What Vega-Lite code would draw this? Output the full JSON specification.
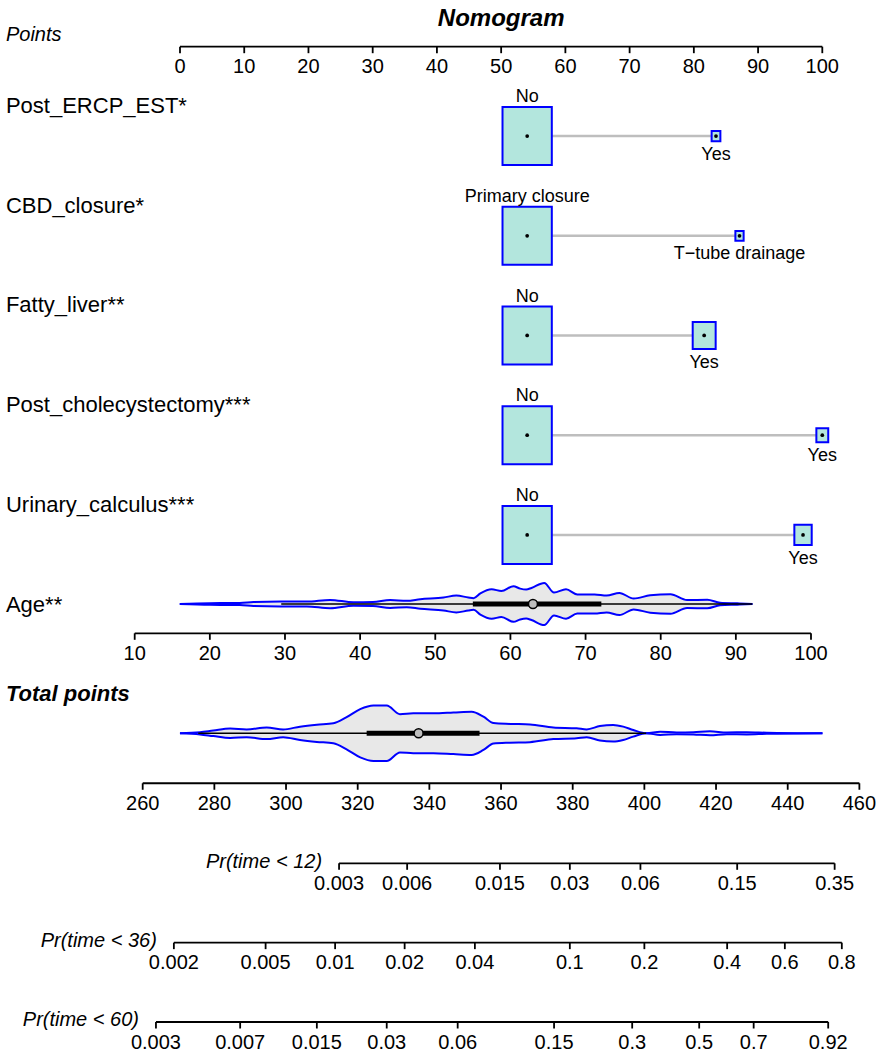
{
  "$schema": "https://vega.github.io/schema/vega-lite/v6.json",
  "width": 876,
  "height": 1055,
  "autosize": {"type": "none"},
  "padding": 0,
  "background": "white",
  "config": {"view": {"stroke": null}, "text": {"font": "Liberation Sans", "color": "black"}},
  "datasets": {
    "boxes": [
      {"var": "Post_ERCP_EST", "order": 1, "level": "No", "lvl": 1, "points": 54.05, "relfreq": 1},
      {"var": "Post_ERCP_EST", "order": 1, "level": "Yes", "lvl": 2, "points": 83.45, "relfreq": 0.0315},
      {"var": "CBD_closure", "order": 2, "level": "Primary closure", "lvl": 1, "points": 54.05, "relfreq": 1},
      {"var": "CBD_closure", "order": 2, "level": "T−tube drainage", "lvl": 2, "points": 87.11, "relfreq": 0.028},
      {"var": "Fatty_liver", "order": 3, "level": "No", "lvl": 1, "points": 54.05, "relfreq": 1},
      {"var": "Fatty_liver", "order": 3, "level": "Yes", "lvl": 2, "points": 81.61, "relfreq": 0.217},
      {"var": "Post_cholecystectomy", "order": 4, "level": "No", "lvl": 1, "points": 54.05, "relfreq": 1},
      {"var": "Post_cholecystectomy", "order": 4, "level": "Yes", "lvl": 2, "points": 100, "relfreq": 0.058},
      {"var": "Urinary_calculus", "order": 5, "level": "No", "lvl": 1, "points": 54.05, "relfreq": 1},
      {"var": "Urinary_calculus", "order": 5, "level": "Yes", "lvl": 2, "points": 97.0, "relfreq": 0.124}
    ],
    "rowlabels": [
      {"label": "Post_ERCP_EST*", "order": 1},
      {"label": "CBD_closure*", "order": 2},
      {"label": "Fatty_liver**", "order": 3},
      {"label": "Post_cholecystectomy***", "order": 4},
      {"label": "Urinary_calculus***", "order": 5},
      {"label": "Age**", "order": 6}
    ],
    "pointsTicks": [
      {"value": 0}, {"value": 10}, {"value": 20}, {"value": 30}, {"value": 40}, {"value": 50},
      {"value": 60}, {"value": 70}, {"value": 80}, {"value": 90}, {"value": 100}
    ],
    "ageTicks": [
      {"value": 10}, {"value": 20}, {"value": 30}, {"value": 40}, {"value": 50},
      {"value": 60}, {"value": 70}, {"value": 80}, {"value": 90}, {"value": 100}
    ],
    "totalTicks": [
      {"value": 260}, {"value": 280}, {"value": 300}, {"value": 320}, {"value": 340}, {"value": 360},
      {"value": 380}, {"value": 400}, {"value": 420}, {"value": 440}, {"value": 460}
    ],
    "prTicks": [
      {"axis": "Pr(time < 12)", "prob": "0.003", "total": 314.8},
      {"axis": "Pr(time < 12)", "prob": "0.006", "total": 333.8},
      {"axis": "Pr(time < 12)", "prob": "0.015", "total": 359.7},
      {"axis": "Pr(time < 12)", "prob": "0.03", "total": 379.2},
      {"axis": "Pr(time < 12)", "prob": "0.06", "total": 398.9},
      {"axis": "Pr(time < 12)", "prob": "0.15", "total": 425.9},
      {"axis": "Pr(time < 12)", "prob": "0.35", "total": 453.1},
      {"axis": "Pr(time < 36)", "prob": "0.002", "total": 268.7},
      {"axis": "Pr(time < 36)", "prob": "0.005", "total": 294.3},
      {"axis": "Pr(time < 36)", "prob": "0.01", "total": 313.7},
      {"axis": "Pr(time < 36)", "prob": "0.02", "total": 333.1},
      {"axis": "Pr(time < 36)", "prob": "0.04", "total": 352.7},
      {"axis": "Pr(time < 36)", "prob": "0.1", "total": 379.2},
      {"axis": "Pr(time < 36)", "prob": "0.2", "total": 400.0},
      {"axis": "Pr(time < 36)", "prob": "0.4", "total": 423.1},
      {"axis": "Pr(time < 36)", "prob": "0.6", "total": 439.2},
      {"axis": "Pr(time < 36)", "prob": "0.8", "total": 455.1},
      {"axis": "Pr(time < 60)", "prob": "0.003", "total": 263.7},
      {"axis": "Pr(time < 60)", "prob": "0.007", "total": 287.2},
      {"axis": "Pr(time < 60)", "prob": "0.015", "total": 308.6},
      {"axis": "Pr(time < 60)", "prob": "0.03", "total": 328.1},
      {"axis": "Pr(time < 60)", "prob": "0.06", "total": 347.9},
      {"axis": "Pr(time < 60)", "prob": "0.15", "total": 374.8},
      {"axis": "Pr(time < 60)", "prob": "0.3", "total": 396.6},
      {"axis": "Pr(time < 60)", "prob": "0.5", "total": 415.3},
      {"axis": "Pr(time < 60)", "prob": "0.7", "total": 430.5},
      {"axis": "Pr(time < 60)", "prob": "0.92", "total": 451.3}
    ],
    "ageViolin": [
      {"age": 16, "density": 0}, {"age": 20, "density": 0.04}, {"age": 24, "density": 0.05},
      {"age": 25.8, "density": 0.09}, {"age": 29.4, "density": 0.11}, {"age": 32.9, "density": 0.11},
      {"age": 36, "density": 0.19}, {"age": 39.1, "density": 0.08}, {"age": 41.7, "density": 0.09},
      {"age": 44, "density": 0.18}, {"age": 46.2, "density": 0.15}, {"age": 48, "density": 0.22},
      {"age": 51.1, "density": 0.3}, {"age": 52.8, "density": 0.39}, {"age": 54.4, "density": 0.3},
      {"age": 55.1, "density": 0.27}, {"age": 56, "density": 0.49}, {"age": 57.5, "density": 0.68},
      {"age": 58.8, "density": 0.6}, {"age": 60.4, "density": 0.82}, {"age": 61.3, "density": 0.71},
      {"age": 62.1, "density": 0.67}, {"age": 62.8, "density": 0.74}, {"age": 64.5, "density": 0.97},
      {"age": 65.8, "density": 0.53}, {"age": 67.4, "density": 0.68}, {"age": 68.9, "density": 0.44},
      {"age": 71.2, "density": 0.44}, {"age": 72.8, "density": 0.39}, {"age": 74.5, "density": 0.51},
      {"age": 76.4, "density": 0.25}, {"age": 78.6, "density": 0.4}, {"age": 81.3, "density": 0.45},
      {"age": 83.5, "density": 0.18}, {"age": 86.2, "density": 0.2}, {"age": 87.9, "density": 0.06},
      {"age": 90.2, "density": 0.03}, {"age": 92.2, "density": 0}
    ],
    "totalViolin": [
      {"total": 270.4, "density": 0}, {"total": 276, "density": 0.04}, {"total": 279.7, "density": 0.1},
      {"total": 284.4, "density": 0.17}, {"total": 289, "density": 0.14}, {"total": 294.6, "density": 0.21},
      {"total": 299.2, "density": 0.14}, {"total": 303.9, "density": 0.24}, {"total": 308.6, "density": 0.31},
      {"total": 313.2, "density": 0.36}, {"total": 316.9, "density": 0.58}, {"total": 320.7, "density": 0.87},
      {"total": 324.4, "density": 1}, {"total": 328.1, "density": 1}, {"total": 331.8, "density": 0.69},
      {"total": 335.5, "density": 0.72}, {"total": 341.1, "density": 0.72}, {"total": 346.7, "density": 0.75},
      {"total": 351.8, "density": 0.78}, {"total": 355.1, "density": 0.6}, {"total": 357.9, "density": 0.37},
      {"total": 362.5, "density": 0.34}, {"total": 368.1, "density": 0.32}, {"total": 374.6, "density": 0.21},
      {"total": 381.1, "density": 0.18}, {"total": 383.9, "density": 0.14}, {"total": 387.6, "density": 0.26},
      {"total": 391.3, "density": 0.3}, {"total": 394.1, "density": 0.24}, {"total": 396.9, "density": 0.12},
      {"total": 400.6, "density": 0}, {"total": 404.4, "density": 0.06}, {"total": 409, "density": 0.03},
      {"total": 413.7, "density": 0.04}, {"total": 418.3, "density": 0.07}, {"total": 423, "density": 0.03},
      {"total": 428.6, "density": 0.04}, {"total": 434.2, "density": 0.02}, {"total": 449.7, "density": 0}
    ],
    "summary": [
      {"var": "Age", "lo": 29.5, "q1": 55, "median": 63, "q3": 72.1, "hi": 92.2},
      {"var": "Total", "lo": 275.5, "q1": 322.5, "median": 337, "q3": 354, "hi": 400.5}
    ]
  },
  "resolve": {"scale": {"x": "independent", "y": "independent", "size": "independent"}},
  "layer": [
    {
      "data": {"values": [{"t": "Nomogram"}]},
      "mark": {"type": "text", "fontSize": 24, "fontWeight": "bold", "fontStyle": "italic", "align": "center", "baseline": "alphabetic"},
      "encoding": {
        "x": {"datum": 50, "type": "quantitative", "scale": {"domain": [-28.024, 108.36], "nice": false, "zero": false}, "axis": null},
        "y": {"datum": -0.1043, "type": "quantitative", "scale": {"domain": [-0.365, 10.2166], "reverse": true, "nice": false, "zero": false}, "axis": null},
        "text": {"field": "t", "type": "nominal"}
      }
    },
    {
      "data": {"values": [{"t": "Points"}]},
      "mark": {"type": "text", "fontSize": 20, "fontStyle": "italic", "align": "left", "baseline": "alphabetic"},
      "encoding": {
        "x": {"datum": -27.1, "type": "quantitative", "scale": {"domain": [-28.024, 108.36], "nice": false, "zero": false}, "axis": null},
        "y": {"datum": 0.0461, "type": "quantitative", "scale": {"domain": [-0.365, 10.2166], "reverse": true, "nice": false, "zero": false}, "axis": null},
        "text": {"field": "t", "type": "nominal"}
      }
    },
    {
      "data": {"name": "pointsTicks"},
      "mark": {"type": "rule", "color": "black", "strokeWidth": 1.8},
      "encoding": {
        "x": {"aggregate": "min", "field": "value", "type": "quantitative", "scale": {"domain": [-28.024, 108.36], "nice": false, "zero": false}, "axis": null},
        "x2": {"aggregate": "max", "field": "value"},
        "y": {"datum": 0.1033, "type": "quantitative", "scale": {"domain": [-0.365, 10.2166], "reverse": true, "nice": false, "zero": false}, "axis": null}
      }
    },
    {
      "data": {"name": "pointsTicks"},
      "mark": {"type": "rule", "color": "black", "strokeWidth": 1.8, "y2Offset": 6.5},
      "encoding": {
        "x": {"field": "value", "type": "quantitative", "scale": {"domain": [-28.024, 108.36], "nice": false, "zero": false}, "axis": null},
        "y": {"datum": 0.1033, "type": "quantitative", "scale": {"domain": [-0.365, 10.2166], "reverse": true, "nice": false, "zero": false}, "axis": null},
        "y2": {"datum": 0.1033}
      }
    },
    {
      "data": {"name": "pointsTicks"},
      "mark": {"type": "text", "fontSize": 20, "align": "center", "baseline": "alphabetic", "dy": 26.5},
      "encoding": {
        "x": {"field": "value", "type": "quantitative", "scale": {"domain": [-28.024, 108.36], "nice": false, "zero": false}, "axis": null},
        "y": {"datum": 0.1033, "type": "quantitative", "scale": {"domain": [-0.365, 10.2166], "reverse": true, "nice": false, "zero": false}, "axis": null},
        "text": {"field": "value", "type": "nominal"}
      }
    },
    {
      "data": {"name": "rowlabels"},
      "mark": {"type": "text", "fontSize": 22, "align": "left", "baseline": "alphabetic", "dy": -23},
      "encoding": {
        "x": {"datum": -27.1, "type": "quantitative", "scale": {"domain": [-28.024, 108.36], "nice": false, "zero": false}, "axis": null},
        "y": {"field": "order", "type": "quantitative", "scale": {"domain": [-0.365, 10.2166], "reverse": true, "nice": false, "zero": false}, "axis": null},
        "text": {"field": "label", "type": "nominal"}
      }
    },
    {
      "data": {"name": "boxes"},
      "mark": {"type": "rule", "color": "#bebebe", "strokeWidth": 2.5},
      "encoding": {
        "x": {"aggregate": "min", "field": "points", "type": "quantitative", "scale": {"domain": [-28.024, 108.36], "nice": false, "zero": false}, "axis": null},
        "x2": {"aggregate": "max", "field": "points"},
        "y": {"field": "order", "type": "quantitative", "scale": {"domain": [-0.365, 10.2166], "reverse": true, "nice": false, "zero": false}, "axis": null}
      }
    },
    {
      "data": {"name": "boxes"},
      "mark": {"type": "point", "shape": "M-0.85,-1H0.85V1H-0.85Z", "filled": true, "fill": "#b3e6dd", "stroke": "#0000ff", "strokeWidth": 2, "opacity": 1},
      "encoding": {
        "x": {"field": "points", "type": "quantitative", "scale": {"domain": [-28.024, 108.36], "nice": false, "zero": false}, "axis": null},
        "y": {"field": "order", "type": "quantitative", "scale": {"domain": [-0.365, 10.2166], "reverse": true, "nice": false, "zero": false}, "axis": null},
        "size": {"field": "relfreq", "type": "quantitative", "scale": {"type": "linear", "domain": [0, 1], "range": [0, 3364], "zero": true}, "legend": null}
      }
    },
    {
      "data": {"name": "boxes"},
      "mark": {"type": "point", "shape": "circle", "filled": true, "color": "black", "size": 14, "opacity": 1},
      "encoding": {
        "x": {"field": "points", "type": "quantitative", "scale": {"domain": [-28.024, 108.36], "nice": false, "zero": false}, "axis": null},
        "y": {"field": "order", "type": "quantitative", "scale": {"domain": [-0.365, 10.2166], "reverse": true, "nice": false, "zero": false}, "axis": null}
      }
    },
    {
      "data": {"name": "boxes"},
      "transform": [{"filter": "datum.lvl == 1"}],
      "mark": {"type": "text", "fontSize": 18, "align": "center", "baseline": "alphabetic", "dy": -33.7},
      "encoding": {
        "x": {"field": "points", "type": "quantitative", "scale": {"domain": [-28.024, 108.36], "nice": false, "zero": false}, "axis": null},
        "y": {"field": "order", "type": "quantitative", "scale": {"domain": [-0.365, 10.2166], "reverse": true, "nice": false, "zero": false}, "axis": null},
        "text": {"field": "level", "type": "nominal"}
      }
    },
    {
      "data": {"name": "boxes"},
      "transform": [{"filter": "datum.lvl == 2"}],
      "mark": {"type": "text", "fontSize": 18, "align": "center", "baseline": "alphabetic"},
      "encoding": {
        "x": {"field": "points", "type": "quantitative", "scale": {"domain": [-28.024, 108.36], "nice": false, "zero": false}, "axis": null},
        "y": {"field": "order", "type": "ordinal", "scale": {"type": "point", "domain": [1, 2, 3, 4, 5], "range": [136.1, 534.9], "padding": 0}, "axis": null},
        "yOffset": {"field": "relfreq", "type": "quantitative", "scale": {"type": "sqrt", "domain": [0, 1], "range": [18.5, 47.5], "zero": false, "nice": false}},
        "text": {"field": "level", "type": "nominal"}
      }
    },
    {
      "data": {"name": "ageViolin"},
      "mark": {"type": "area", "interpolate": "monotone", "color": "#e8e8e8", "opacity": 1},
      "encoding": {
        "x": {"field": "age", "type": "quantitative", "scale": {"domain": [-7.925, 108.65], "nice": false, "zero": false}, "axis": null},
        "y": {"field": "density", "type": "quantitative", "stack": null, "scale": {"domain": [-20.783, 27.834], "nice": false, "zero": false}, "axis": null},
        "y2": {"datum": 0}
      }
    },
    {
      "data": {"name": "ageViolin"},
      "mark": {"type": "area", "interpolate": "monotone", "color": "#e8e8e8", "opacity": 1},
      "encoding": {
        "x": {"field": "age", "type": "quantitative", "scale": {"domain": [-7.925, 108.65], "nice": false, "zero": false}, "axis": null},
        "y": {"field": "density", "type": "quantitative", "stack": null, "scale": {"domain": [20.783, -27.834], "nice": false, "zero": false}, "axis": null},
        "y2": {"datum": 0}
      }
    },
    {
      "data": {"name": "ageViolin"},
      "mark": {"type": "line", "interpolate": "monotone", "color": "#0000ff", "strokeWidth": 2},
      "encoding": {
        "x": {"field": "age", "type": "quantitative", "scale": {"domain": [-7.925, 108.65], "nice": false, "zero": false}, "axis": null},
        "y": {"field": "density", "type": "quantitative", "scale": {"domain": [-20.783, 27.834], "nice": false, "zero": false}, "axis": null}
      }
    },
    {
      "data": {"name": "ageViolin"},
      "mark": {"type": "line", "interpolate": "monotone", "color": "#0000ff", "strokeWidth": 2},
      "encoding": {
        "x": {"field": "age", "type": "quantitative", "scale": {"domain": [-7.925, 108.65], "nice": false, "zero": false}, "axis": null},
        "y": {"field": "density", "type": "quantitative", "scale": {"domain": [20.783, -27.834], "nice": false, "zero": false}, "axis": null}
      }
    },
    {
      "data": {"name": "summary"},
      "transform": [{"filter": "datum.var == 'Age'"}],
      "mark": {"type": "rule", "color": "black", "strokeWidth": 1.6},
      "encoding": {
        "x": {"field": "lo", "type": "quantitative", "scale": {"domain": [-7.925, 108.65], "nice": false, "zero": false}, "axis": null},
        "x2": {"field": "hi"},
        "y": {"datum": 0, "type": "quantitative", "scale": {"domain": [-20.783, 27.834], "nice": false, "zero": false}, "axis": null}
      }
    },
    {
      "data": {"name": "summary"},
      "transform": [{"filter": "datum.var == 'Age'"}],
      "mark": {"type": "rule", "color": "black", "strokeWidth": 5},
      "encoding": {
        "x": {"field": "q1", "type": "quantitative", "scale": {"domain": [-7.925, 108.65], "nice": false, "zero": false}, "axis": null},
        "x2": {"field": "q3"},
        "y": {"datum": 0, "type": "quantitative", "scale": {"domain": [-20.783, 27.834], "nice": false, "zero": false}, "axis": null}
      }
    },
    {
      "data": {"name": "summary"},
      "transform": [{"filter": "datum.var == 'Age'"}],
      "mark": {"type": "point", "shape": "circle", "filled": true, "fill": "#bebebe", "stroke": "black", "strokeWidth": 1.5, "size": 80, "opacity": 1},
      "encoding": {
        "x": {"field": "median", "type": "quantitative", "scale": {"domain": [-7.925, 108.65], "nice": false, "zero": false}, "axis": null},
        "y": {"datum": 0, "type": "quantitative", "scale": {"domain": [-20.783, 27.834], "nice": false, "zero": false}, "axis": null}
      }
    },
    {
      "data": {"name": "ageTicks"},
      "mark": {"type": "rule", "color": "black", "strokeWidth": 1.8},
      "encoding": {
        "x": {"aggregate": "min", "field": "value", "type": "quantitative", "scale": {"domain": [-7.925, 108.65], "nice": false, "zero": false}, "axis": null},
        "x2": {"aggregate": "max", "field": "value"},
        "y": {"datum": 5.987, "type": "quantitative", "scale": {"domain": [-0.365, 10.2166], "reverse": true, "nice": false, "zero": false}, "axis": null}
      }
    },
    {
      "data": {"name": "ageTicks"},
      "mark": {"type": "rule", "color": "black", "strokeWidth": 1.8, "y2Offset": 6.5},
      "encoding": {
        "x": {"field": "value", "type": "quantitative", "scale": {"domain": [-7.925, 108.65], "nice": false, "zero": false}, "axis": null},
        "y": {"datum": 5.987, "type": "quantitative", "scale": {"domain": [-0.365, 10.2166], "reverse": true, "nice": false, "zero": false}, "axis": null},
        "y2": {"datum": 5.987}
      }
    },
    {
      "data": {"name": "ageTicks"},
      "mark": {"type": "text", "fontSize": 20, "align": "center", "baseline": "alphabetic", "dy": 26.5},
      "encoding": {
        "x": {"field": "value", "type": "quantitative", "scale": {"domain": [-7.925, 108.65], "nice": false, "zero": false}, "axis": null},
        "y": {"datum": 5.987, "type": "quantitative", "scale": {"domain": [-0.365, 10.2166], "reverse": true, "nice": false, "zero": false}, "axis": null},
        "text": {"field": "value", "type": "nominal"}
      }
    },
    {
      "data": {"values": [{"t": "Total points"}]},
      "mark": {"type": "text", "fontSize": 22, "fontWeight": "bold", "fontStyle": "italic", "align": "left", "baseline": "alphabetic"},
      "encoding": {
        "x": {"datum": -27.1, "type": "quantitative", "scale": {"domain": [-28.024, 108.36], "nice": false, "zero": false}, "axis": null},
        "y": {"datum": 6.666, "type": "quantitative", "scale": {"domain": [-0.365, 10.2166], "reverse": true, "nice": false, "zero": false}, "axis": null},
        "text": {"field": "t", "type": "nominal"}
      }
    },
    {
      "data": {"name": "totalViolin"},
      "mark": {"type": "area", "interpolate": "monotone", "color": "#e8e8e8", "opacity": 1},
      "encoding": {
        "x": {"field": "total", "type": "quantitative", "scale": {"domain": [220.18, 464.64], "nice": false, "zero": false}, "axis": null},
        "y": {"field": "density", "type": "quantitative", "stack": null, "scale": {"domain": [-11.614, 26.473], "nice": false, "zero": false}, "axis": null},
        "y2": {"datum": 0}
      }
    },
    {
      "data": {"name": "totalViolin"},
      "mark": {"type": "area", "interpolate": "monotone", "color": "#e8e8e8", "opacity": 1},
      "encoding": {
        "x": {"field": "total", "type": "quantitative", "scale": {"domain": [220.18, 464.64], "nice": false, "zero": false}, "axis": null},
        "y": {"field": "density", "type": "quantitative", "stack": null, "scale": {"domain": [11.614, -26.473], "nice": false, "zero": false}, "axis": null},
        "y2": {"datum": 0}
      }
    },
    {
      "data": {"name": "totalViolin"},
      "mark": {"type": "line", "interpolate": "monotone", "color": "#0000ff", "strokeWidth": 2},
      "encoding": {
        "x": {"field": "total", "type": "quantitative", "scale": {"domain": [220.18, 464.64], "nice": false, "zero": false}, "axis": null},
        "y": {"field": "density", "type": "quantitative", "scale": {"domain": [-11.614, 26.473], "nice": false, "zero": false}, "axis": null}
      }
    },
    {
      "data": {"name": "totalViolin"},
      "mark": {"type": "line", "interpolate": "monotone", "color": "#0000ff", "strokeWidth": 2},
      "encoding": {
        "x": {"field": "total", "type": "quantitative", "scale": {"domain": [220.18, 464.64], "nice": false, "zero": false}, "axis": null},
        "y": {"field": "density", "type": "quantitative", "scale": {"domain": [11.614, -26.473], "nice": false, "zero": false}, "axis": null}
      }
    },
    {
      "data": {"name": "summary"},
      "transform": [{"filter": "datum.var == 'Total'"}],
      "mark": {"type": "rule", "color": "black", "strokeWidth": 1.6},
      "encoding": {
        "x": {"field": "lo", "type": "quantitative", "scale": {"domain": [220.18, 464.64], "nice": false, "zero": false}, "axis": null},
        "x2": {"field": "hi"},
        "y": {"datum": 0, "type": "quantitative", "scale": {"domain": [-11.614, 26.473], "nice": false, "zero": false}, "axis": null}
      }
    },
    {
      "data": {"name": "summary"},
      "transform": [{"filter": "datum.var == 'Total'"}],
      "mark": {"type": "rule", "color": "black", "strokeWidth": 5},
      "encoding": {
        "x": {"field": "q1", "type": "quantitative", "scale": {"domain": [220.18, 464.64], "nice": false, "zero": false}, "axis": null},
        "x2": {"field": "q3"},
        "y": {"datum": 0, "type": "quantitative", "scale": {"domain": [-11.614, 26.473], "nice": false, "zero": false}, "axis": null}
      }
    },
    {
      "data": {"name": "summary"},
      "transform": [{"filter": "datum.var == 'Total'"}],
      "mark": {"type": "point", "shape": "circle", "filled": true, "fill": "#bebebe", "stroke": "black", "strokeWidth": 1.5, "size": 80, "opacity": 1},
      "encoding": {
        "x": {"field": "median", "type": "quantitative", "scale": {"domain": [220.18, 464.64], "nice": false, "zero": false}, "axis": null},
        "y": {"datum": 0, "type": "quantitative", "scale": {"domain": [-11.614, 26.473], "nice": false, "zero": false}, "axis": null}
      }
    },
    {
      "data": {"name": "totalTicks"},
      "mark": {"type": "rule", "color": "black", "strokeWidth": 1.8},
      "encoding": {
        "x": {"aggregate": "min", "field": "value", "type": "quantitative", "scale": {"domain": [220.18, 464.64], "nice": false, "zero": false}, "axis": null},
        "x2": {"aggregate": "max", "field": "value"},
        "y": {"datum": 7.491, "type": "quantitative", "scale": {"domain": [-0.365, 10.2166], "reverse": true, "nice": false, "zero": false}, "axis": null}
      }
    },
    {
      "data": {"name": "totalTicks"},
      "mark": {"type": "rule", "color": "black", "strokeWidth": 1.8, "y2Offset": 6.5},
      "encoding": {
        "x": {"field": "value", "type": "quantitative", "scale": {"domain": [220.18, 464.64], "nice": false, "zero": false}, "axis": null},
        "y": {"datum": 7.491, "type": "quantitative", "scale": {"domain": [-0.365, 10.2166], "reverse": true, "nice": false, "zero": false}, "axis": null},
        "y2": {"datum": 7.491}
      }
    },
    {
      "data": {"name": "totalTicks"},
      "mark": {"type": "text", "fontSize": 20, "align": "center", "baseline": "alphabetic", "dy": 26.5},
      "encoding": {
        "x": {"field": "value", "type": "quantitative", "scale": {"domain": [220.18, 464.64], "nice": false, "zero": false}, "axis": null},
        "y": {"datum": 7.491, "type": "quantitative", "scale": {"domain": [-0.365, 10.2166], "reverse": true, "nice": false, "zero": false}, "axis": null},
        "text": {"field": "value", "type": "nominal"}
      }
    },
    {
      "data": {"name": "prTicks"},
      "mark": {"type": "rule", "color": "black", "strokeWidth": 1.8},
      "encoding": {
        "x": {"aggregate": "min", "field": "total", "type": "quantitative", "scale": {"domain": [220.18, 464.64], "nice": false, "zero": false}, "axis": null},
        "x2": {"aggregate": "max", "field": "total"},
        "y": {"field": "axis", "type": "nominal", "scale": {"type": "point", "domain": ["Pr(time < 12)", "Pr(time < 36)", "Pr(time < 60)"], "range": [863.3, 1022], "padding": 0}, "axis": null}
      }
    },
    {
      "data": {"name": "prTicks"},
      "mark": {"type": "rule", "color": "black", "strokeWidth": 1.8, "y2Offset": 6.5},
      "encoding": {
        "x": {"field": "total", "type": "quantitative", "scale": {"domain": [220.18, 464.64], "nice": false, "zero": false}, "axis": null},
        "y": {"field": "axis", "type": "nominal", "scale": {"type": "point", "domain": ["Pr(time < 12)", "Pr(time < 36)", "Pr(time < 60)"], "range": [863.3, 1022], "padding": 0}, "axis": null},
        "y2": {"field": "axis"}
      }
    },
    {
      "data": {"name": "prTicks"},
      "mark": {"type": "text", "fontSize": 20, "align": "center", "baseline": "alphabetic", "dy": 26.5},
      "encoding": {
        "x": {"field": "total", "type": "quantitative", "scale": {"domain": [220.18, 464.64], "nice": false, "zero": false}, "axis": null},
        "y": {"field": "axis", "type": "nominal", "scale": {"type": "point", "domain": ["Pr(time < 12)", "Pr(time < 36)", "Pr(time < 60)"], "range": [863.3, 1022], "padding": 0}, "axis": null},
        "text": {"field": "prob", "type": "nominal"}
      }
    },
    {
      "data": {"name": "prTicks"},
      "mark": {"type": "text", "fontSize": 20, "fontStyle": "italic", "align": "right", "baseline": "alphabetic", "dx": -17, "dy": 4.3},
      "encoding": {
        "x": {"aggregate": "min", "field": "total", "type": "quantitative", "scale": {"domain": [220.18, 464.64], "nice": false, "zero": false}, "axis": null},
        "y": {"field": "axis", "type": "nominal", "scale": {"type": "point", "domain": ["Pr(time < 12)", "Pr(time < 36)", "Pr(time < 60)"], "range": [863.3, 1022], "padding": 0}, "axis": null},
        "text": {"field": "axis", "type": "nominal"}
      }
    }
  ]
}
